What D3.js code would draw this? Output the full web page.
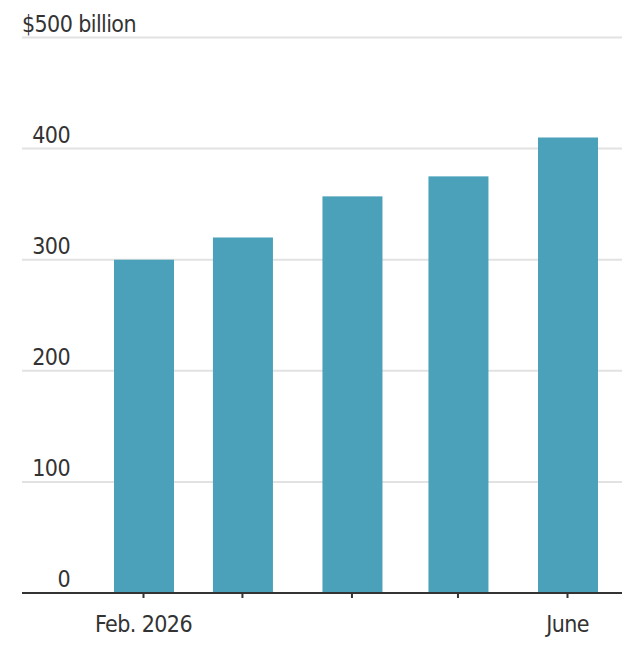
<!DOCTYPE html>
<html>
<head>
<meta charset="utf-8">
<script src="https://cdn.jsdelivr.net/npm/d3@7"></script>
<style>
  body { margin: 0; background: #fff; }
  svg text { font-family: "DejaVu Sans Condensed", "Roboto", sans-serif; fill: #333; letter-spacing: -0.6px; }
</style>
</head>
<body>
<svg id="drawing_region"></svg>
<script>
// monthly values, $ billion
const months = ['2026-02-01', '2026-03-01', '2026-04-01', '2026-05-01', '2026-06-01'];
const values = [300, 320, 357, 375, 410];
const yTicks = [0, 100, 200, 300, 400, 500];
const xTickLabels = {'2026-02-01': 'Feb. 2026', '2026-06-01': 'June'};

const parse = d3.utcParse('%Y-%m-%d');
const data = months.map((m, i) => ({date: parse(m), key: m, value: values[i]}));

const width = 640, height = 648;
const left = 22, right = 622;

const svg = d3.select('#drawing_region')
  .attr('width', width)
  .attr('height', height);

const xscale = d3.scaleUtc()
  .domain([parse('2026-02-01'), parse('2026-06-01')])
  .range([143, 567]);

const yscale = d3.scaleLinear()
  .domain([0, 500])
  .range([593, 37.5]);

// gridlines + y labels
const grid = svg.append('g');
grid.selectAll('line')
  .data(yTicks.filter(d => d > 0))
  .enter()
  .append('line')
  .attr('x1', left)
  .attr('x2', right)
  .attr('y1', d => yscale(d))
  .attr('y2', d => yscale(d))
  .attr('stroke', '#e2e2e2')
  .attr('stroke-width', 2);

grid.selectAll('text')
  .data(yTicks)
  .enter()
  .append('text')
  .attr('x', d => d === 500 ? left : 70)
  .attr('y', d => yscale(d) - 6)
  .attr('text-anchor', d => d === 500 ? 'start' : 'end')
  .attr('font-size', 23)
  .text(d => d === 500 ? '$500 billion' : d);

// bars
svg.append('g').selectAll('rect')
  .data(data)
  .enter()
  .append('rect')
  .attr('x', d => xscale(d.date) - 29)
  .attr('width', 60)
  .attr('y', d => yscale(d.value))
  .attr('height', d => yscale(0) - yscale(d.value))
  .attr('fill', '#4aa1b9');

// x axis
const xaxis = d3.axisBottom(xscale)
  .tickValues(data.map(d => d.date))
  .tickSize(5)
  .tickSizeOuter(0)
  .tickFormat((d, i) => xTickLabels[months[i]] || '');

const xg = svg.append('g')
  .attr('transform', `translate(0, ${yscale(0)})`)
  .call(xaxis);

xg.select('.domain').remove();
xg.selectAll('.tick line').attr('stroke', '#333').attr('stroke-width', 2);
xg.selectAll('.tick text')
  .attr('y', 39)
  .attr('dy', 0)
  .attr('font-size', 23)
  .attr('fill', '#333');

svg.append('line')
  .attr('x1', left)
  .attr('x2', right)
  .attr('y1', yscale(0))
  .attr('y2', yscale(0))
  .attr('stroke', '#333')
  .attr('stroke-width', 2);
</script>
</body>
</html>
